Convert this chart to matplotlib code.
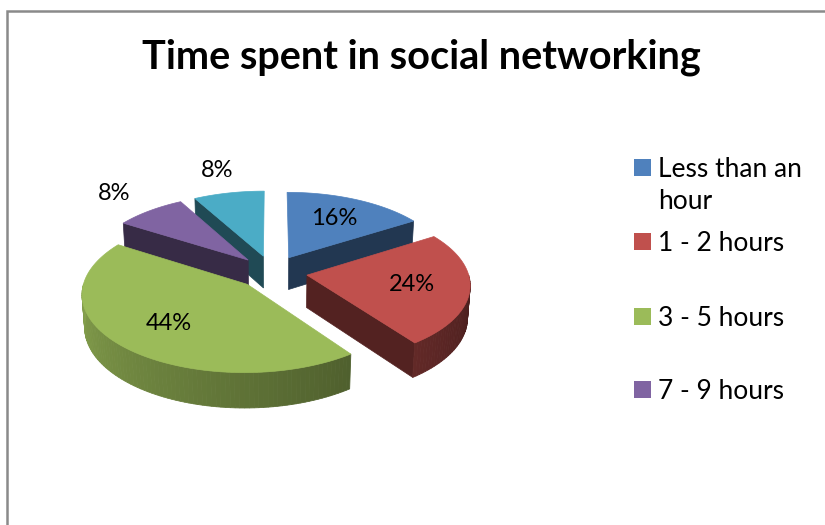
import numpy as np
import matplotlib.pyplot as plt
from matplotlib.patches import Polygon, Rectangle
from matplotlib.colors import to_rgb

plt.rcParams['font.family'] = ['Lato', 'DejaVu Sans']

title = "Time spent in social networking"
shares = [16, 24, 44, 8, 8]
pct_labels = ["16%", "24%", "44%", "8%", "8%"]
legend_labels = ["Less than an\nhour", "1 - 2 hours", "3 - 5 hours", "7 - 9 hours"]
colors = ["#4F81BD", "#C0504D", "#9BBB59", "#8064A2", "#4BACC6"]

# 3D pie projection settings (pixel canvas, y down)
S = 161.0
EL = np.radians(28)
DIST = 8.0
CX, CY = 272.0, 272.0
THICK = 0.23
EXPLODE = 0.22
INNER_R = 0.65
OUTER_R = 1.40


def project(X, Y, Z):
    up = Y * np.sin(EL) + Z * np.cos(EL)
    depth = Y * np.cos(EL) - Z * np.sin(EL)
    k = DIST / (DIST + depth)
    return CX + S * X * k, CY - S * up * k


def shade(c, f):
    return tuple(np.clip(np.array(to_rgb(c)) * f, 0, 1))


fig = plt.figure(figsize=(8.25, 5.25), dpi=100)
ax = fig.add_axes([0, 0, 1, 1])
ax.set_xlim(0, 825)
ax.set_ylim(525, 0)
ax.axis('off')

# chart area border
ax.plot([7, 7, 826], [526, 11, 11], color='#8A8A8A', lw=1.8, solid_joinstyle='miter')

ax.text(421, 68, title, ha='center', va='baseline', fontsize=28.5, fontweight='bold')

fracs = np.array(shares, dtype=float) / np.sum(shares)
ends = np.cumsum(fracs) * 360.0
starts = ends - fracs * 360.0
mids = (starts + ends) / 2

# paint the slices from the back to the front
order = np.argsort(-np.cos(np.radians(mids)))
for i in order:
    ts, te, tm = starts[i], ends[i], mids[i]
    ox = EXPLODE * np.sin(np.radians(tm))
    oy = EXPLODE * np.cos(np.radians(tm))
    col = colors[i]
    th = np.radians(np.linspace(ts, te, 120))
    ax_x = ox + np.sin(th)
    ax_y = oy + np.cos(th)

    # radial cut faces that face the viewer
    for t, normal in ((ts, ts - 90), (te, te + 90)):
        if np.cos(np.radians(normal)) < -1e-6:
            r = np.radians(t)
            px = [ox, ox + np.sin(r), ox + np.sin(r), ox]
            py = [oy, oy + np.cos(r), oy + np.cos(r), oy]
            pz = [0, 0, -THICK, -THICK]
            qx, qy = project(np.array(px), np.array(py), np.array(pz))
            ax.add_patch(Polygon(np.column_stack([qx, qy]), closed=True,
                                 facecolor=shade(col, 0.43), edgecolor=shade(col, 0.43), lw=0.5))

    # outer rim, front half only, lit from the left
    lo, hi = max(ts, 90.0), min(te, 270.0)
    if hi > lo:
        angs = np.linspace(lo, hi, int((hi - lo) / 1.5) + 2)
        for a0, a1 in zip(angs[:-1], angs[1:]):
            r0, r1 = np.radians(a0), np.radians(a1)
            px = np.array([ox + np.sin(r0), ox + np.sin(r1), ox + np.sin(r1), ox + np.sin(r0)])
            py = np.array([oy + np.cos(r0), oy + np.cos(r1), oy + np.cos(r1), oy + np.cos(r0)])
            pz = np.array([0, 0, -THICK, -THICK])
            qx, qy = project(px, py, pz)
            f = 0.36 + 0.5 * ((a0 + a1) / 2 - 90) / 180
            c = shade(col, f)
            ax.add_patch(Polygon(np.column_stack([qx, qy]), closed=True,
                                 facecolor=c, edgecolor=c, lw=0.6))

    # top face
    tx, ty = project(np.concatenate([[ox], ax_x]), np.concatenate([[oy], ax_y]),
                     np.zeros(len(ax_x) + 1))
    ax.add_patch(Polygon(np.column_stack([tx, ty]), closed=True,
                         facecolor=col, edgecolor=col, lw=0.5))

# percentage labels: large slices inside, small ones outside
for i in range(len(shares)):
    r = INNER_R if fracs[i] > 0.1 else OUTER_R
    tm = np.radians(mids[i])
    ox = EXPLODE * np.sin(tm)
    oy = EXPLODE * np.cos(tm)
    lx, ly = project(ox + r * np.sin(tm), oy + r * np.cos(tm), 0.0)
    ax.text(lx, ly, pct_labels[i], ha='center', va='center', fontsize=17, color='black')

# legend
leg_y = [167.5, 241.5, 316, 389.5]
for lab, col, y in zip(legend_labels, colors, leg_y):
    ax.add_patch(Rectangle((634, y - 8.5), 17, 17, facecolor=col, edgecolor='none'))
    ax.text(658, y - 10.5, lab, ha='left', va='top', fontsize=19, linespacing=1.35)

fig.savefig('out.png', dpi=100)
